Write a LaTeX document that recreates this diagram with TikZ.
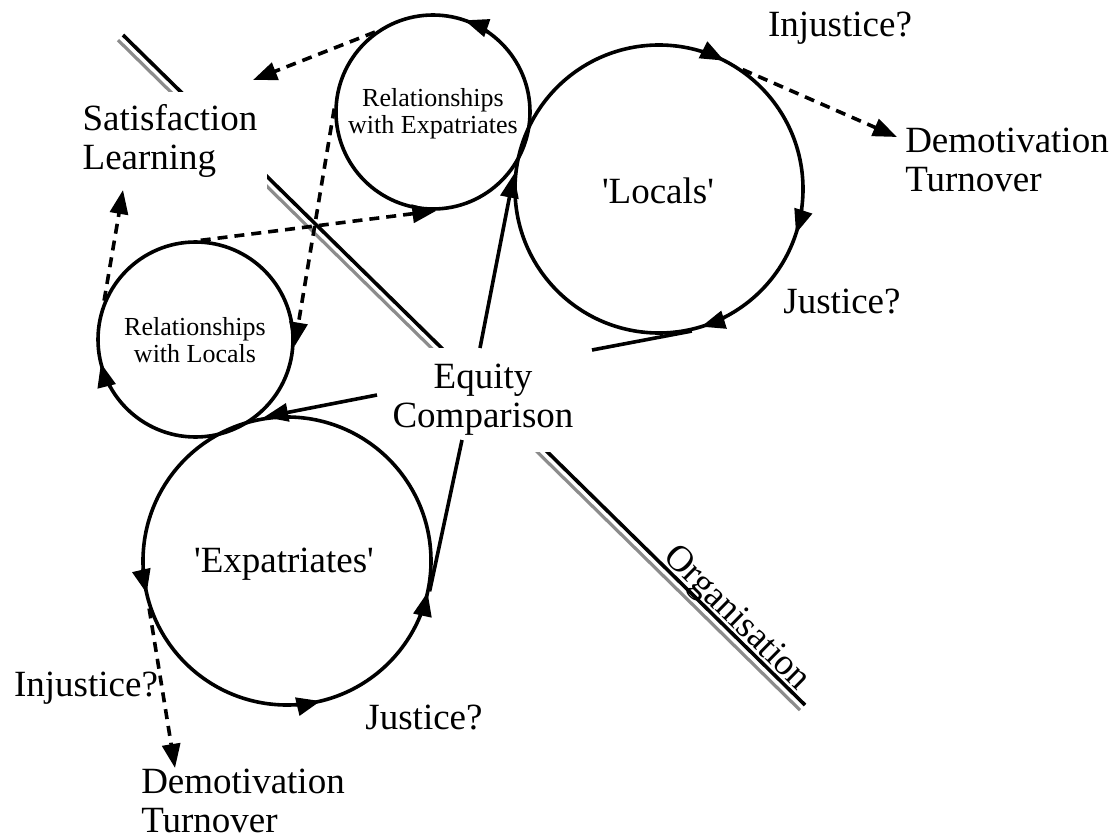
\documentclass[tikz,border=0pt]{standalone}
\usepackage{fontspec}
\setmainfont{Liberation Serif}
\usetikzlibrary{arrows.meta}
\begin{document}
\begin{tikzpicture}[x=0.5pt,y=0.5pt,line width=1.8pt,
  headarrow/.style={-{Triangle[length=12pt,width=9pt]}},
  dlink/.style={dash pattern=on 5pt off 3.5pt, headarrow},
  loopring/.style={draw, circle, inner sep=0pt},
  bigtxt/.style={font=\fontsize{18.5}{19.5}\selectfont, align=left, inner sep=0pt},
  smalltxt/.style={font=\fontsize{13}{13.3}\selectfont, align=center, inner sep=0pt},
  gap/.style={fill=white, inner xsep=5pt, inner ysep=6pt}
]
\useasboundingbox (0,0) rectangle (1119,-840);

% organisation boundary: black line with a grey shadow line
\coordinate (orgS) at (123,-35);
\coordinate (orgE) at (805,-705);
\draw[black!45, line width=1.6pt] ([shift={(-5,-5.1)}]orgS) -- ([shift={(-5,-5.1)}]orgE);
\draw (orgS) -- (orgE);
\node[bigtxt, rotate=-44.5, anchor=base] (org) at (730,-625) {Organisation};

% labels that interrupt the boundary line
\node[bigtxt, gap] (sat) at (170,-141) {Satisfaction\\Learning};
\node[bigtxt, gap, align=center, inner xsep=6pt, inner ysep=8pt] (eq) at (483,-400) {Equity\\Comparison};

% free labels
\node[bigtxt] (inj1) at (840,-28) {Injustice?};
\node[bigtxt] (dem1) at (1007,-160) {Demotivation\\Turnover};
\node[bigtxt] (jus1) at (842,-302) {Justice?};
\node[bigtxt] (inj2) at (86,-688) {Injustice?};
\node[bigtxt] (jus2) at (424,-718) {Justice?};
\node[bigtxt] (dem2) at (243,-801) {Demotivation\\Turnover};

% the four loops
\node[loopring, minimum size=97pt] (re) at (433,-112) {};
\node[smalltxt] (retxt) at (433,-114) {Relationships\\with Expatriates};
\node[loopring, minimum size=97.5pt] (rl) at (195.5,-339.5) {};
\node[smalltxt] (rltxt) at (195,-340) {Relationships\\with Locals};
\node[loopring, minimum size=144pt] (locals) at (659,-189) {};
\node[bigtxt] (lctxt) at (658,-191) {\textquotesingle Locals\textquotesingle};
\node[loopring, minimum size=144pt] (ex) at (287,-561) {};
\node[bigtxt] (extxt) at (284,-564) {\textquotesingle Expatriates\textquotesingle};

% direction marks on the loops
\draw[headarrow] ([shift={(55:97)}]re.center) arc[start angle=55, end angle=71, radius=97];
\draw[headarrow] ([shift={(209:97.5)}]rl.center) arc[start angle=209, end angle=194, radius=97.5];
\draw[headarrow] ([shift={(73:144)}]locals.center) arc[start angle=73, end angle=63, radius=144];
\draw[headarrow] ([shift={(-8:144)}]locals.center) arc[start angle=-8, end angle=-18, radius=144];
\draw[headarrow] ([shift={(-63:144)}]locals.center) arc[start angle=-63, end angle=-73, radius=144];
\draw[headarrow] ([shift={(183:144)}]ex.center) arc[start angle=183, end angle=193, radius=144];
\draw[headarrow] ([shift={(273.5:144)}]ex.center) arc[start angle=273.5, end angle=283.5, radius=144];
\draw[headarrow] ([shift={(337.5:144)}]ex.center) arc[start angle=337.5, end angle=347.5, radius=144];

% solid links through the equity comparison
\coordinate (eqA) at (480,-348);
\coordinate (eqB) at (592,-350);
\coordinate (eqC) at (377,-395);
\coordinate (eqD) at (462,-440);
\draw[headarrow] (eqA) -- (locals.174);
\draw (locals.-77) -- (eqB);
\draw[headarrow] (eqC) -- (ex.99);
\draw (ex.348) -- (eqD);

% dashed outcome links
\coordinate (satA) at (253,-80);
\coordinate (satB) at (123,-190);
\coordinate (demA) at (897,-137);
\coordinate (demB) at (175,-768);
\draw[dlink] (re.126) -- (satA);
\draw[dlink] (rl.87) -- (re.272);
\draw[dlink] (re.178) -- (rl.-4);
\draw[dlink] (rl.157) -- (satB);
\draw[dlink] (locals.55) -- (demA);
\draw[dlink] (ex.199) -- (demB);
\end{tikzpicture}
\end{document}
